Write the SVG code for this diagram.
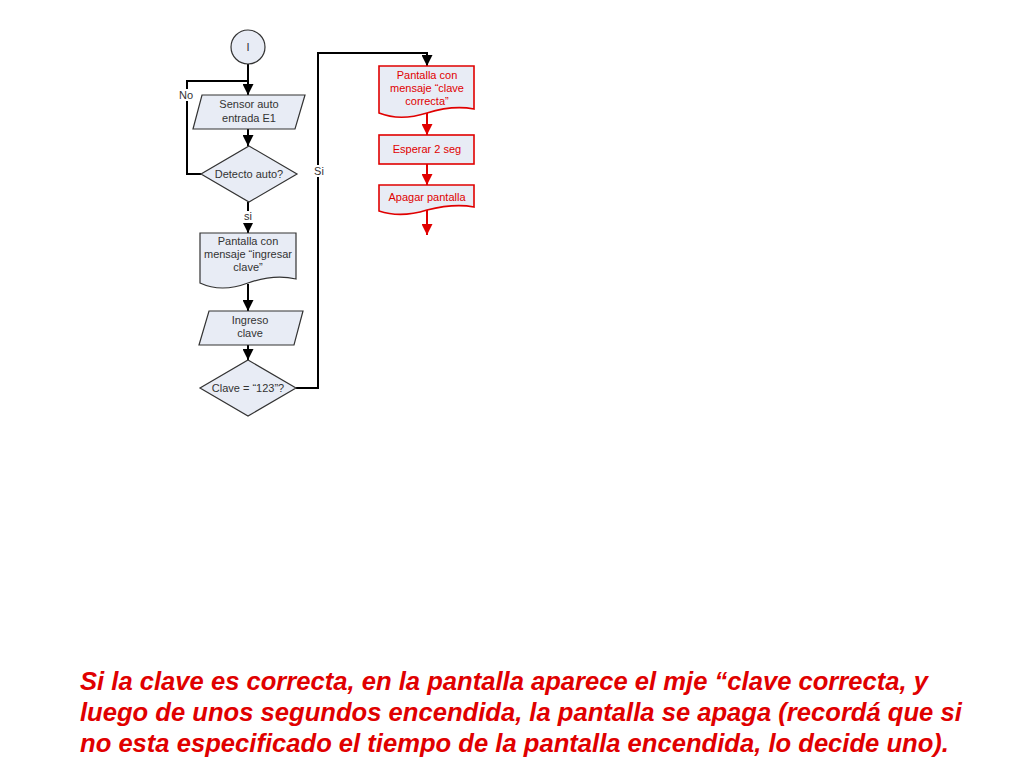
<svg xmlns="http://www.w3.org/2000/svg" width="1024" height="768" viewBox="0 0 1024 768">
<defs>
<marker id="ab" viewBox="0 0 10 10" refX="10" refY="5" markerWidth="5.5" markerHeight="5.5" orient="auto" markerUnits="strokeWidth"><path d="M0,0 L10,5 L0,10 Z" fill="#000"/></marker>
<marker id="ar" viewBox="0 0 10 10" refX="10" refY="5" markerWidth="5.5" markerHeight="5.5" orient="auto" markerUnits="strokeWidth"><path d="M0,0 L10,5 L0,10 Z" fill="#E00000"/></marker>
</defs>
<style>
.n{fill:#E8ECF5;stroke:#333;stroke-width:1.2}
.r{fill:#E8ECF5;stroke:#E00000;stroke-width:1.6}
.t{font-family:"Liberation Sans",Arial,sans-serif;font-size:11px;fill:#333;text-anchor:middle}
.tr{font-family:"Liberation Sans",Arial,sans-serif;font-size:11px;fill:#E00000;text-anchor:middle}
.c{fill:none;stroke:#000;stroke-width:2}
.cr{fill:none;stroke:#E00000;stroke-width:2}
.lb{font-family:"Liberation Sans",Arial,sans-serif;font-size:11px;fill:#333;text-anchor:middle}
.big{font-family:"Liberation Sans",Arial,sans-serif;font-size:25.6px;font-weight:bold;font-style:italic;fill:#E00000}
</style>
<rect width="1024" height="768" fill="#fff"/>
<g id="connectors">
<path class="c" d="M248,64 V95" marker-end="url(#ab)"/>
<path class="c" d="M201,174 H187 V81 H248"/>
<path class="c" d="M248,129 V146" marker-end="url(#ab)"/>
<path class="c" d="M248,202 V233" marker-end="url(#ab)"/>
<path class="c" d="M248,284 V311" marker-end="url(#ab)"/>
<path class="c" d="M248,345 V360" marker-end="url(#ab)"/>
<path class="c" d="M296,388 H318 V53 H427 V66" marker-end="url(#ab)"/>
<path class="cr" d="M427,113 V135" marker-end="url(#ar)"/>
<path class="cr" d="M427,164 V185" marker-end="url(#ar)"/>
<path class="cr" d="M427,210 V235" marker-end="url(#ar)"/>
<rect x="178" y="89" width="17" height="12" fill="#fff"/>
<text class="lb" x="186" y="99">No</text>
<rect x="242" y="211" width="12" height="12" fill="#fff"/>
<text class="lb" x="248" y="220">si</text>
<rect x="313" y="165" width="12" height="12" fill="#fff"/>
<text class="lb" x="319" y="175">Si</text>
</g>
<g id="start">
<circle class="n" cx="248" cy="47" r="17"/>
<text class="t" x="248" y="51">I</text>
</g>
<g id="sensor">
<path class="n" d="M202,95 H305 L295,129 H193 Z"/>
<text class="t" x="249" y="108">Sensor auto</text>
<text class="t" x="249" y="122">entrada E1</text>
</g>
<g id="detecto">
<path class="n" d="M249,146 L297,174 L249,202 L201,174 Z"/>
<text class="t" x="249" y="178">Detecto auto?</text>
</g>
<g id="pantalla-ingresar">
<path class="n" d="M200,233 H296 V279 C280,275 265,277 248,283 C232,289 215,290 200,283 Z"/>
<text class="t" x="248" y="245">Pantalla con</text>
<text class="t" x="248" y="258">mensaje “ingresar</text>
<text class="t" x="248" y="271">clave”</text>
</g>
<g id="ingreso">
<path class="n" d="M209,311 H303 L294,345 H199 Z"/>
<text class="t" x="250" y="324">Ingreso</text>
<text class="t" x="250" y="337">clave</text>
</g>
<g id="clave">
<path class="n" d="M248,360 L296,388 L248,416 L200,388 Z"/>
<text class="t" x="248" y="392">Clave = “123”?</text>
</g>
<g id="pantalla-correcta">
<path class="r" d="M379,66 H474 V109 C458,106 443,108 427,113 C411,118 394,119 379,113 Z"/>
<text class="tr" x="427" y="79">Pantalla con</text>
<text class="tr" x="427" y="92">mensaje “clave</text>
<text class="tr" x="427" y="105">correcta”</text>
</g>
<g id="esperar">
<rect class="r" x="379" y="135" width="95" height="29"/>
<text class="tr" x="427" y="153">Esperar 2 seg</text>
</g>
<g id="apagar">
<path class="r" d="M379,185 H474 V207 C458,204 443,206 427,210 C411,215 394,216 379,211 Z"/>
<text class="tr" x="427" y="201">Apagar pantalla</text>
</g>
<g id="caption">
<text class="big" x="80" y="690">Si la clave es correcta, en la pantalla aparece el mje “clave correcta, y</text>
<text class="big" x="80" y="721">luego de unos segundos encendida, la pantalla se apaga (recordá que si</text>
<text class="big" x="80" y="752">no esta especificado el tiempo de la pantalla encendida, lo decide uno).</text>
</g>
</svg>
